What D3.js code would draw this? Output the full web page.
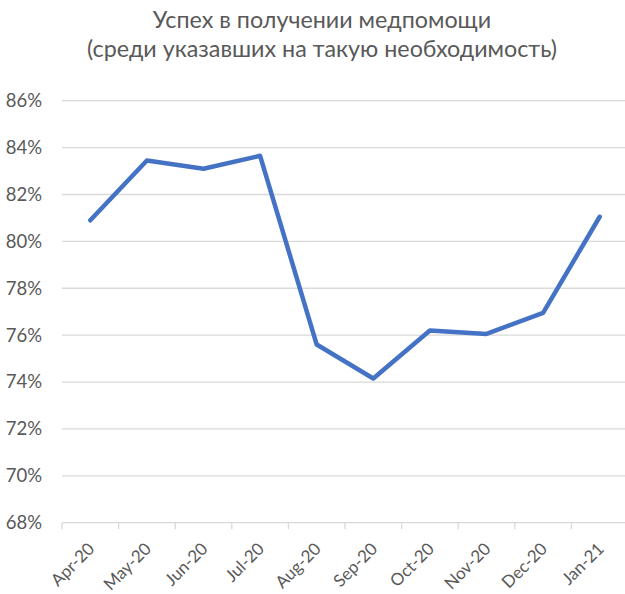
<!DOCTYPE html>
<html>
<head>
<meta charset="utf-8">
<script src="https://cdn.jsdelivr.net/npm/d3@7"></script>
<style>
  body { margin: 0; background: #fff; }
</style>
</head>
<body>
<div id="chart"></div>
<script>
// chart data
var months = ["Apr-20", "May-20", "Jun-20", "Jul-20", "Aug-20", "Sep-20", "Oct-20", "Nov-20", "Dec-20", "Jan-21"];
var success = [80.9, 83.45, 83.1, 83.65, 75.6, 74.15, 76.2, 76.05, 76.95, 81.05];
var yTicks = [68, 70, 72, 74, 76, 78, 80, 82, 84, 86];
var titleLines = ["Успех в получении медпомощи", "(среди указавших на такую необходимость)"];

var width = 625, height = 594;
var fontFamily = "Lato, sans-serif";

var svg = d3.select("#chart")
    .append("svg")
    .attr("width", width)
    .attr("height", height)
    .attr("font-family", fontFamily);

// scales
var x = d3.scaleBand()
    .domain(months)
    .range([62, 628]);

var y = d3.scaleLinear()
    .domain([68, 86])
    .range([522.7, 100.7]);

// title
svg.append("g")
    .selectAll("text")
    .data(titleLines)
    .join("text")
    .attr("x", 322)
    .attr("y", (d, i) => 28 + i * 29)
    .attr("text-anchor", "middle")
    .attr("font-size", "23.3px")
    .attr("fill", "#595959")
    .text(d => d);

// gridlines
svg.append("g")
    .selectAll("line")
    .data(yTicks.slice(1))
    .join("line")
    .attr("x1", 62)
    .attr("x2", 628)
    .attr("y1", d => y(d))
    .attr("y2", d => y(d))
    .attr("stroke", "#d9d9d9")
    .attr("stroke-width", 1.3);

// y axis labels
var yAxis = d3.axisLeft(y)
    .tickValues(yTicks)
    .tickFormat(d => d + "%")
    .tickSize(0)
    .tickPadding(20);

svg.append("g")
    .attr("transform", "translate(62,0)")
    .call(yAxis)
    .call(g => g.select(".domain").remove())
    .call(g => g.selectAll("text")
        .attr("font-family", fontFamily)
        .attr("font-size", "18.5px")
        .attr("fill", "#595959"));

// x axis with ticks between categories
var xAxisG = svg.append("g")
    .attr("transform", "translate(0," + y(68) + ")");

xAxisG.append("line")
    .attr("x1", 62)
    .attr("x2", 628)
    .attr("stroke", "#d9d9d9")
    .attr("stroke-width", 1.3);

xAxisG.selectAll(".tick")
    .data(months)
    .join("line")
    .attr("class", "tick")
    .attr("x1", d => x(d))
    .attr("x2", d => x(d))
    .attr("y1", 0)
    .attr("y2", 6.5)
    .attr("stroke", "#d9d9d9")
    .attr("stroke-width", 1.3);

xAxisG.selectAll(".lbl")
    .data(months)
    .join("text")
    .attr("class", "lbl")
    .attr("transform", d => "translate(" + (x(d) + x.bandwidth() / 2 + 1) + ",23) rotate(-45)")
    .attr("text-anchor", "end")
    .attr("dy", "0.35em")
    .attr("font-size", "17px")
    .attr("fill", "#595959")
    .text(d => d);

// line
var line = d3.line()
    .x((d, i) => x(months[i]) + x.bandwidth() / 2)
    .y(d => y(d));

svg.append("path")
    .datum(success)
    .attr("d", line)
    .attr("fill", "none")
    .attr("stroke", "#4472c4")
    .attr("stroke-width", 4.5)
    .attr("stroke-linejoin", "round")
    .attr("stroke-linecap", "round");
</script>
</body>
</html>
